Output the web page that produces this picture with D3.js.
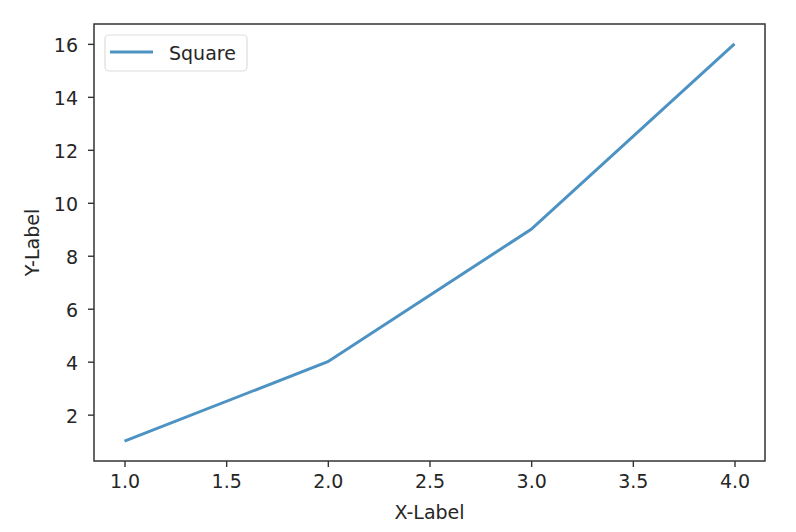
<!DOCTYPE html>
<html>
<head>
<meta charset="utf-8">
<script src="https://cdn.jsdelivr.net/npm/d3@7"></script>
<style>
  body { margin: 0; background: #fff; }
  svg { font-family: "DejaVu Sans", sans-serif; }
</style>
</head>
<body>
<svg id="chart" width="796" height="532"></svg>
<script>
var xValues = [1, 2, 3, 4];
var yValues = [1, 4, 9, 16];
var seriesName = 'Square';
var xTicks = [1.0, 1.5, 2.0, 2.5, 3.0, 3.5, 4.0];
var yTicks = [2, 4, 6, 8, 10, 12, 14, 16];

var config = {
  left: 94,
  right: 765,
  top: 24,
  bottom: 461,
  fontSize: 19,
  tickSize: 6,
  lineColor: '#1f77b4',
  textColor: '#262626',
};

var svg = d3.select('#chart');

var x = d3.scaleLinear()
  .domain([0.85, 4.15])
  .range([config.left, config.right]);

var y = d3.scaleLinear()
  .domain([0.25, 16.75])
  .range([config.bottom, config.top]);

var xAxis = svg.append('g')
  .attr('transform', 'translate(0,' + config.bottom + ')')
  .call(d3.axisBottom(x).tickValues(xTicks).tickFormat(d3.format('.1f')).tickSize(config.tickSize).tickPadding(8));
var yAxis = svg.append('g')
  .attr('transform', 'translate(' + config.left + ',0)')
  .call(d3.axisLeft(y).tickValues(yTicks).tickFormat(d3.format('d')).tickSize(config.tickSize).tickPadding(10));

[xAxis, yAxis].forEach(function(a) {
  a.select('.domain').remove();
  a.selectAll('.tick line').attr('stroke', '#333').attr('stroke-width', 1.4);
  a.selectAll('.tick text')
    .attr('fill', config.textColor)
    .attr('font-size', config.fontSize)
    .attr('font-family', '"DejaVu Sans", sans-serif');
});
yAxis.selectAll('.tick text').attr('dy', '0.42em');

// frame
svg.append('rect')
  .attr('x', config.left)
  .attr('y', config.top)
  .attr('width', config.right - config.left)
  .attr('height', config.bottom - config.top)
  .attr('fill', 'none')
  .attr('stroke', '#333')
  .attr('stroke-width', 1.5);

var line = d3.line()
  .x(function(d, i) { return x(xValues[i]); })
  .y(function(d) { return y(d); });

svg.append('path')
  .attr('d', line(yValues))
  .attr('fill', 'none')
  .attr('stroke', config.lineColor)
  .attr('stroke-opacity', 0.8)
  .attr('stroke-width', 3);

// legend
var legend = svg.append('g');
legend.append('rect')
  .attr('x', 105).attr('y', 35)
  .attr('width', 142).attr('height', 36)
  .attr('rx', 4)
  .attr('fill', '#fff')
  .attr('stroke', '#ddd')
  .attr('stroke-width', 1.2);
legend.append('line')
  .attr('x1', 110).attr('x2', 153)
  .attr('y1', 52).attr('y2', 52)
  .attr('stroke', config.lineColor)
  .attr('stroke-opacity', 0.8)
  .attr('stroke-width', 3);
legend.append('text')
  .attr('x', 169).attr('y', 53)
  .attr('dy', '0.35em')
  .attr('font-size', config.fontSize)
  .attr('fill', config.textColor)
  .text(seriesName);

svg.append('text')
  .attr('x', (config.left + config.right) / 2)
  .attr('y', 519)
  .attr('text-anchor', 'middle')
  .attr('font-size', config.fontSize)
  .attr('fill', config.textColor)
  .text('X-Label');

svg.append('text')
  .attr('transform', 'translate(39,' + ((config.top + config.bottom) / 2) + ') rotate(-90)')
  .attr('text-anchor', 'middle')
  .attr('font-size', config.fontSize)
  .attr('fill', config.textColor)
  .text('Y-Label');
</script>
</body>
</html>
